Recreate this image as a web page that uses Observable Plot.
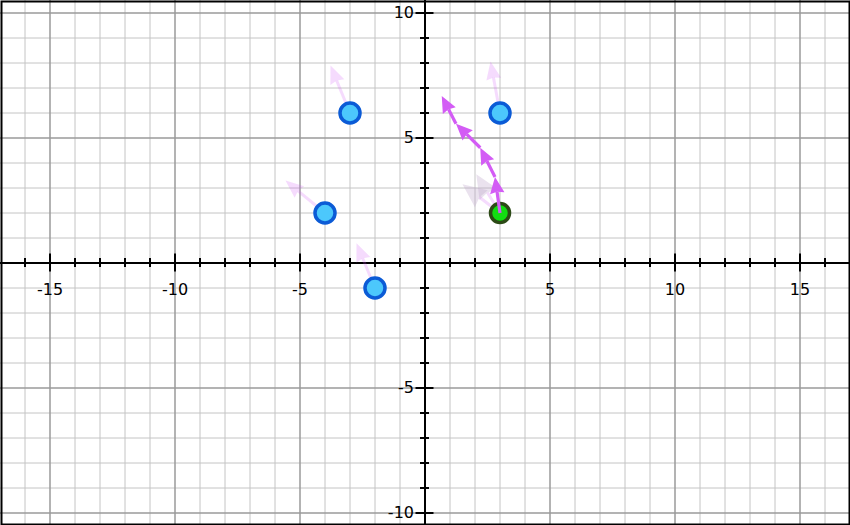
<!DOCTYPE html>
<html>
<head>
<meta charset="utf-8">
<script src="https://cdn.jsdelivr.net/npm/d3@7"></script>
<script src="https://cdn.jsdelivr.net/npm/@observablehq/plot@0.6"></script>
<style>
  html, body { margin: 0; padding: 0; background: #fff; }
  #chart svg { display: block; }
</style>
</head>
<body>
<div id="chart"></div>
<script>
// ---- data ----
const gridX = d3.range(-16, 18);
const gridY = d3.range(-10, 11);
const xTickLabels = [-15, -10, -5, 5, 10, 15];
const yTickLabels = [-10, -5, 5, 10];

const blueX = [-3, -4, 3, -2];
const blueY = [6, 2, 6, -1];
const greenX = [3];
const greenY = [2];

// faded arrows from blue points
const ghostTipX = [-3.78, -5.58, 2.62, -2.74];
const ghostTipY = [7.9, 3.3, 8.06, 0.79];
// faded arrows from green point
const greenGhostTipX = [1.5, 2.05];
const greenGhostTipY = [3.15, 3.55];

// solid trajectory of arrows
const pathX = [3, 2.8, 2.21, 1.24, 0.67];
const pathY = [2, 3.44, 4.61, 5.57, 6.68];

// ---- helpers ----
function buildArrows(starts, tips, L, W) {
  const shafts = [], heads = [];
  starts.forEach((s, i) => {
    const t = tips[i];
    const dx = t[0] - s[0], dy = t[1] - s[1];
    const len = Math.hypot(dx, dy);
    const ux = dx / len, uy = dy / len;
    const px = -uy, py = ux;
    const bx = t[0] - L * ux, by = t[1] - L * uy;
    const nx = t[0] - 0.9 * L * ux, ny = t[1] - 0.9 * L * uy;
    shafts.push({x1: s[0], y1: s[1], x2: nx, y2: ny});
    const id = i;
    heads.push({id, x: t[0], y: t[1]});
    heads.push({id, x: bx + px * W / 2, y: by + py * W / 2});
    heads.push({id, x: nx, y: ny});
    heads.push({id, x: bx - px * W / 2, y: by - py * W / 2});
    heads.push({id, x: t[0], y: t[1]});
  });
  return {shafts, heads};
}

const blueStarts = blueX.map((x, i) => [x, blueY[i]]);
const ghostTips = ghostTipX.map((x, i) => [x, ghostTipY[i]]);
const ghost1 = buildArrows(blueStarts, ghostTips, 0.72, 0.6);

const greenStarts = greenGhostTipX.map(() => [greenX[0], greenY[0]]);
const greenGhostTips = greenGhostTipX.map((x, i) => [x, greenGhostTipY[i]]);
const ghost2 = buildArrows(greenStarts, greenGhostTips, 0.95, 0.85);

const solidStarts = pathX.slice(0, -1).map((x, i) => [x, pathY[i]]);
const solidTips = pathX.slice(1).map((x, i) => [x, pathY[i + 1]]);
const solid = buildArrows(solidStarts, solidTips, 0.66, 0.58);

const blue = blueX.map((x, i) => ({x, y: blueY[i]}));
const green = greenX.map((x, i) => ({x, y: greenY[i]}));

const magenta = "#d35cf5";
const ghostOpacity = 0.22;

const minorX = gridX.filter(v => v % 5 !== 0);
const majorX = gridX.filter(v => v % 5 === 0 && v !== 0);
const minorY = gridY.filter(v => v % 5 !== 0);
const majorY = gridY.filter(v => v % 5 === 0 && v !== 0);

const chart = Plot.plot({
  width: 850,
  height: 525,
  margin: 0,
  x: {domain: [-16.98, 17.02], axis: null},
  y: {domain: [-10.5, 10.5], axis: null},
  style: {background: "#fff", fontFamily: "DejaVu Sans, sans-serif", fontSize: "16px", color: "black"},
  marks: [
    Plot.ruleX(minorX, {stroke: "#c4c4c4", strokeWidth: 1}),
    Plot.ruleY(minorY, {stroke: "#c4c4c4", strokeWidth: 1}),
    Plot.ruleX(majorX, {stroke: "#9a9a9a", strokeWidth: 1.5}),
    Plot.ruleY(majorY, {stroke: "#9a9a9a", strokeWidth: 1.5}),
    Plot.ruleX([0], {stroke: "black", strokeWidth: 2}),
    Plot.ruleY([0], {stroke: "black", strokeWidth: 2}),
    // x ticks
    Plot.ruleX(gridX.filter(v => v % 5 !== 0), {y1: -0.18, y2: 0.18, stroke: "black", strokeWidth: 2}),
    Plot.ruleX(gridX.filter(v => v % 5 === 0 && v !== 0), {y1: -0.36, y2: 0.36, stroke: "black", strokeWidth: 2}),
    // y ticks
    Plot.ruleY(gridY.filter(v => v % 5 !== 0), {x1: -0.18, x2: 0.18, stroke: "black", strokeWidth: 2}),
    Plot.ruleY(gridY.filter(v => v % 5 === 0 && v !== 0), {x1: -0.36, x2: 0.36, stroke: "black", strokeWidth: 2}),
    // tick labels
    Plot.text(xTickLabels, {x: d => d, y: 0, text: d => String(d), dy: 27, fill: "black", fontSize: 16}),
    Plot.text(yTickLabels, {x: 0, y: d => d, text: d => String(d), dx: -11, textAnchor: "end", fill: "black", fontSize: 16}),
    // faded arrows
    Plot.link(ghost1.shafts, {x1: "x1", y1: "y1", x2: "x2", y2: "y2", stroke: magenta, strokeWidth: 3, strokeOpacity: ghostOpacity}),
    Plot.line(ghost1.heads, {x: "x", y: "y", z: "id", fill: magenta, stroke: "none", fillOpacity: ghostOpacity}),
    Plot.link(ghost2.shafts, {x1: "x1", y1: "y1", x2: "x2", y2: "y2", stroke: magenta, strokeWidth: 3, strokeOpacity: ghostOpacity}),
    Plot.line(ghost2.heads, {x: "x", y: "y", z: "id", fill: "#b9a0c8", stroke: "none", fillOpacity: 0.3}),
    // points
    Plot.dot(blue, {x: "x", y: "y", r: 10, fill: "#4cc8fc", stroke: "#0b5bd6", strokeWidth: 3.5}),
    Plot.dot(green, {x: "x", y: "y", r: 9.5, fill: "#12dd12", stroke: "#2c4a16", strokeWidth: 3.5}),
    // solid arrows
    Plot.link(solid.shafts, {x1: "x1", y1: "y1", x2: "x2", y2: "y2", stroke: magenta, strokeWidth: 3.2}),
    Plot.line(solid.heads, {x: "x", y: "y", z: "id", fill: magenta, stroke: "none"}),
    Plot.frame({stroke: "black", strokeWidth: 2, inset: 1})
  ]
});
document.getElementById("chart").append(chart);
</script>
</body>
</html>
